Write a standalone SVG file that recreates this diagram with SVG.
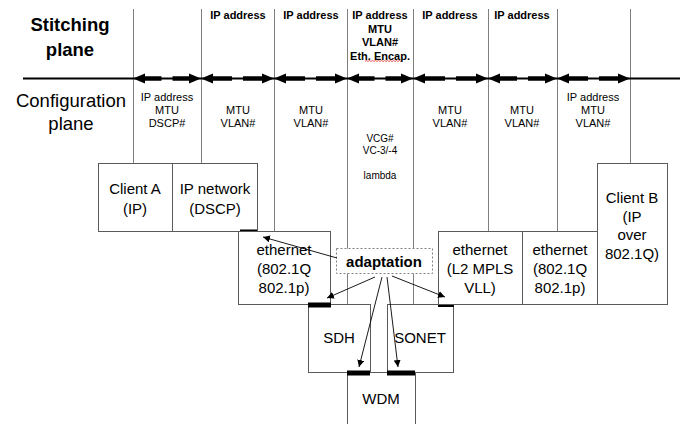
<svg xmlns="http://www.w3.org/2000/svg" width="684" height="424" viewBox="0 0 684 424">
<defs>
<style>
text{font-family:"Liberation Sans",Arial,sans-serif;fill:#000;text-anchor:middle}
.big{font-size:18.5px}
.bold{font-weight:bold}
.lbl{font-size:11px}
.sm{font-size:10px}
.box{fill:#fff;stroke:#5a5a5a;stroke-width:1}
.bt{font-size:15px}
.vl{stroke:#808080;stroke-width:1;fill:none}
.dash{stroke:#000;stroke-width:4.5}
.head{fill:#000}
.bar{fill:#000}
.thin{stroke:#000;stroke-width:0.9;fill:none;marker-end:url(#ah)}
</style>
<marker id="ah" viewBox="0 0 10 10" refX="10" refY="5" markerWidth="7" markerHeight="7" markerUnits="userSpaceOnUse" orient="auto">
<path d="M0,0 L10,5 L0,10 z" fill="#000"/>
</marker>
</defs>
<rect width="684" height="424" fill="#fff"/>

<g id="plane-labels">
<text class="big bold" x="70" y="31">Stitching</text>
<text class="big bold" x="70" y="56">plane</text>
<text class="big" x="71" y="107">Configuration</text>
<text class="big" x="71" y="130">plane</text>
</g>

<g id="boundaries">
<line class="vl" x1="133.5" y1="9" x2="133.5" y2="163"/>
<line class="vl" x1="201.5" y1="9" x2="201.5" y2="163"/>
<line class="vl" x1="274.5" y1="9" x2="274.5" y2="231"/>
<line class="vl" x1="347.5" y1="9" x2="347.5" y2="305"/>
<line class="vl" x1="413.5" y1="9" x2="413.5" y2="305"/>
<line class="vl" x1="488.5" y1="9" x2="488.5" y2="231"/>
<line class="vl" x1="557.5" y1="9" x2="557.5" y2="231"/>
<line class="vl" x1="630.5" y1="9" x2="630.5" y2="163"/>
</g>

<g id="stitching-labels" class="lbl bold">
<text x="238" y="19">IP address</text>
<text x="311" y="19">IP address</text>
<text x="380" y="19">IP address</text>
<text x="380" y="32.5">MTU</text>
<text x="380" y="46">VLAN#</text>
<text x="380" y="59.5">Eth. Encap.</text>
<text x="450" y="19">IP address</text>
<text x="522" y="19">IP address</text>
<path d="M365,61.5 l1.5,-1 l1.5,1 l1.5,-1 l1.5,1 l1.5,-1 l1.5,1 l1.5,-1 l1.5,1 l1.5,-1 l1.5,1 l1.5,-1 l1.5,1 l1.5,-1 l1.5,1 l1.5,-1 l1.5,1 l1.5,-1 l1.5,1 l1.5,-1 l1.5,1 l1.5,-1 l1.5,1 l1.5,-1 l1.5,1" stroke="#e03030" stroke-width="0.8" fill="none"/>
</g>

<g id="config-labels" class="lbl">
<text x="167" y="101">IP address</text>
<text x="167" y="114">MTU</text>
<text x="167" y="127">DSCP#</text>
<text x="238" y="114">MTU</text>
<text x="238" y="127">VLAN#</text>
<text x="311" y="114">MTU</text>
<text x="311" y="127">VLAN#</text>
<text class="sm" x="380" y="141.5">VCG#</text>
<text class="sm" x="380" y="154">VC-3/-4</text>
<text class="sm" x="380" y="179">lambda</text>
<text x="450" y="114">MTU</text>
<text x="450" y="127">VLAN#</text>
<text x="522" y="114">MTU</text>
<text x="522" y="127">VLAN#</text>
<text x="593" y="101">IP address</text>
<text x="593" y="114">MTU</text>
<text x="593" y="127">VLAN#</text>
</g>

<g id="client-a">
<rect class="box" x="98.5" y="163.5" width="74" height="68"/>
<text class="bt" x="135" y="193.5">Client A</text>
<text class="bt" x="135" y="213.5">(IP)</text>
</g>
<g id="ip-network">
<rect class="box" x="172.5" y="163.5" width="85" height="68"/>
<text class="bt" x="215" y="193.5">IP network</text>
<text class="bt" x="215" y="213.5">(DSCP)</text>
<rect class="bar" x="240" y="229.5" width="17" height="4"/>
</g>
<g id="ethernet-left">
<rect class="box" x="238.5" y="231.5" width="92" height="73"/>
<text class="bt" x="284" y="255">ethernet</text>
<text class="bt" x="284" y="274">(802.1Q</text>
<text class="bt" x="284" y="293">802.1p)</text>
</g>
<g id="sdh">
<rect class="box" x="308.5" y="304.5" width="62" height="68"/>
<text class="bt" x="339" y="343">SDH</text>
<rect class="bar" x="308" y="302.5" width="23" height="5"/>
</g>
<g id="sonet">
<rect class="box" x="387.5" y="304.5" width="66" height="68"/>
<text class="bt" x="420" y="343">SONET</text>
<rect class="bar" x="438" y="302" width="16" height="5"/>
</g>
<g id="wdm">
<rect class="box" x="347.5" y="372.5" width="68" height="60"/>
<text class="bt" x="381" y="404">WDM</text>
<rect class="bar" x="347" y="370.5" width="23" height="5"/>
<rect class="bar" x="387" y="370.5" width="28" height="5"/>
</g>
<g id="ethernet-l2">
<rect class="box" x="438.5" y="231.5" width="84" height="73"/>
<text class="bt" x="480" y="255">ethernet</text>
<text class="bt" x="480" y="274">(L2 MPLS</text>
<text class="bt" x="480" y="293">VLL)</text>
</g>
<g id="ethernet-right">
<rect class="box" x="522.5" y="231.5" width="75" height="73"/>
<text class="bt" x="560" y="255">ethernet</text>
<text class="bt" x="560" y="274">(802.1Q</text>
<text class="bt" x="560" y="293">802.1p)</text>
</g>
<g id="client-b">
<rect class="box" x="597.5" y="163.5" width="70" height="141"/>
<text class="bt" x="632" y="203">Client B</text>
<text class="bt" x="632" y="221.5">(IP</text>
<text class="bt" x="632" y="240">over</text>
<text class="bt" x="632" y="258.5">802.1Q)</text>
</g>
<g id="adaptation">
<rect x="336.5" y="248.5" width="96" height="25" fill="#fff" stroke="#808080" stroke-width="1" stroke-dasharray="2,2"/>
<text class="bold" x="384" y="266.5" style="font-size:15px">adaptation</text>
</g>

<g id="connectors">
<line x1="23" y1="78.5" x2="680" y2="78.5" stroke="#000" stroke-width="2"/>
<g id="seg1"><polygon class="head" points="133,78.5 145,73.5 145,83.5"/><polygon class="head" points="201,78.5 189,73.5 189,83.5"/><line class="dash" x1="145" y1="78.5" x2="161.5" y2="78.5"/><line class="dash" x1="172.5" y1="78.5" x2="189" y2="78.5"/></g>
<g id="seg2"><polygon class="head" points="201,78.5 213,73.5 213,83.5"/><polygon class="head" points="274,78.5 262,73.5 262,83.5"/><line class="dash" x1="213" y1="78.5" x2="232" y2="78.5"/><line class="dash" x1="243" y1="78.5" x2="262" y2="78.5"/></g>
<g id="seg3"><polygon class="head" points="274,78.5 286,73.5 286,83.5"/><polygon class="head" points="347,78.5 335,73.5 335,83.5"/><line class="dash" x1="286" y1="78.5" x2="305" y2="78.5"/><line class="dash" x1="316" y1="78.5" x2="335" y2="78.5"/></g>
<g id="seg4"><polygon class="head" points="347,78.5 359,73.5 359,83.5"/><polygon class="head" points="413,78.5 401,73.5 401,83.5"/><line class="dash" x1="359" y1="78.5" x2="374.5" y2="78.5"/><line class="dash" x1="385.5" y1="78.5" x2="401" y2="78.5"/></g>
<g id="seg5"><polygon class="head" points="413,78.5 425,73.5 425,83.5"/><polygon class="head" points="488,78.5 476,73.5 476,83.5"/><line class="dash" x1="425" y1="78.5" x2="445" y2="78.5"/><line class="dash" x1="456" y1="78.5" x2="476" y2="78.5"/></g>
<g id="seg6"><polygon class="head" points="488,78.5 500,73.5 500,83.5"/><polygon class="head" points="557,78.5 545,73.5 545,83.5"/><line class="dash" x1="500" y1="78.5" x2="517" y2="78.5"/><line class="dash" x1="528" y1="78.5" x2="545" y2="78.5"/></g>
<g id="seg7"><polygon class="head" points="557,78.5 569,73.5 569,83.5"/><polygon class="head" points="630,78.5 618,73.5 618,83.5"/><line class="dash" x1="569" y1="78.5" x2="588" y2="78.5"/><line class="dash" x1="599" y1="78.5" x2="618" y2="78.5"/></g>
<line class="thin" x1="337" y1="258" x2="263" y2="237"/>
<line class="thin" x1="375" y1="277" x2="327" y2="298"/>
<line class="thin" x1="382" y1="277" x2="359" y2="367"/>
<line class="thin" x1="387" y1="277" x2="398" y2="367"/>
<line class="thin" x1="392" y1="276" x2="445" y2="297"/>
</g>
</svg>
